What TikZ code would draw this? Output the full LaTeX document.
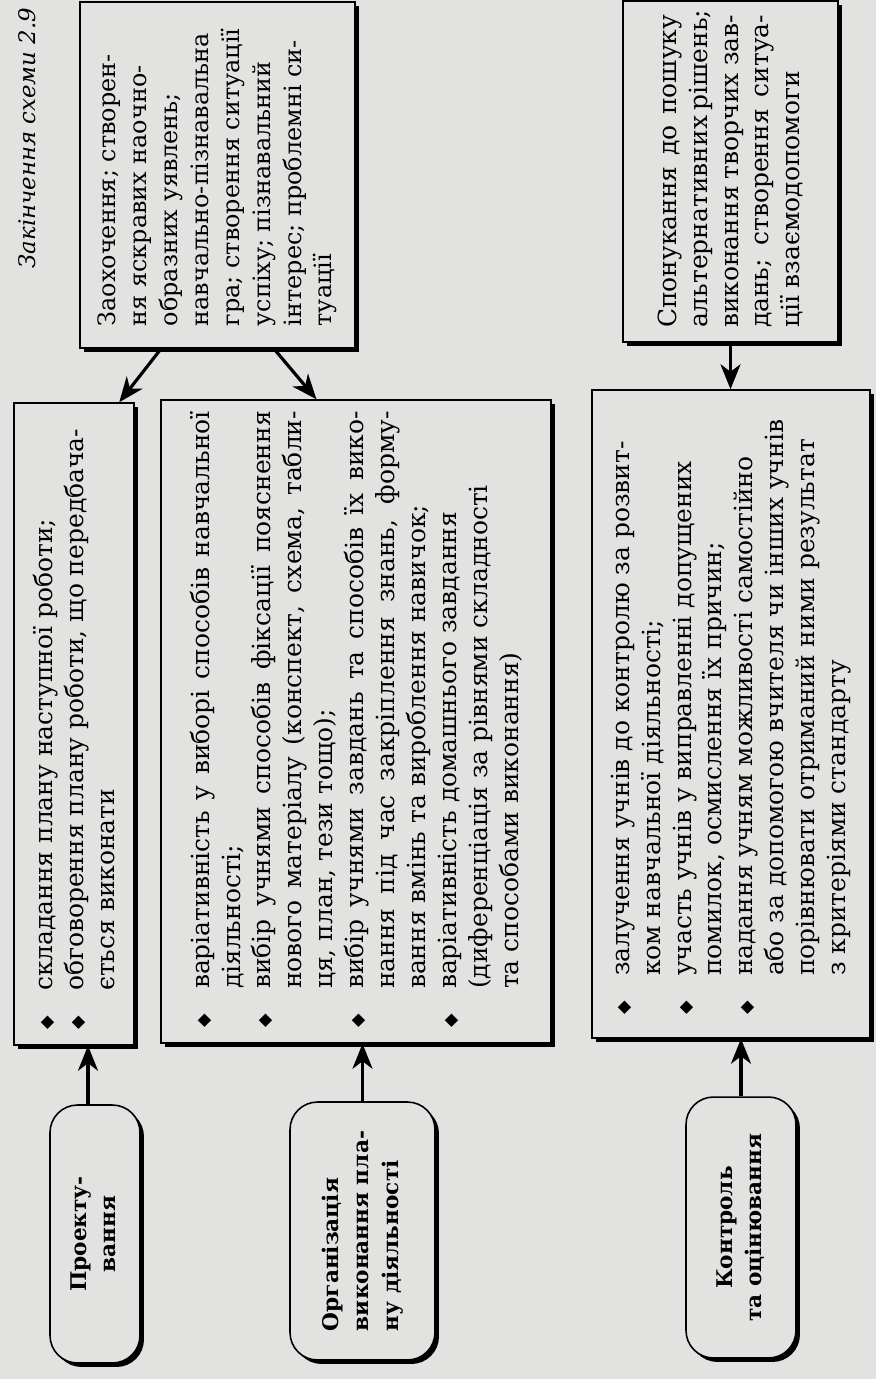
\documentclass[tikz,border=0pt]{standalone}
\usepackage{fontspec}
\setmainfont{DejaVu Serif}
\newfontfamily\symbfont{DejaVu Sans}
\usetikzlibrary{arrows.meta, shadows}
\definecolor{paper}{RGB}{226,226,224}

\newcommand{\boxfont}{\fontsize{14.2}{17.6}\selectfont}
\newcommand{\sidefont}{\fontsize{13.6}{17.6}\selectfont}
\newcommand{\bul}{{\symbfont\fontsize{10}{10}\selectfont ◆}}
\newcommand{\turned}[2]{\rotatebox{90}{\begin{minipage}{#1}#2\end{minipage}}}
\newcommand{\jline}[1]{\makebox[\linewidth][s]{#1}}
\newcommand{\rline}[1]{\mbox{#1}}
\newenvironment{dotlist}{%
  \begin{list}{\bul}{%
    \setlength\leftmargin{0.86cm}%
    \setlength\labelwidth{0.86cm}%
    \setlength\labelsep{0pt}%
    \setlength\itemsep{0pt}%
    \setlength\parsep{0pt}%
    \setlength\topsep{0pt}%
    \setlength\partopsep{0pt}%
    \renewcommand\makelabel[1]{\hspace{0.08cm}##1\hfil}}}%
  {\end{list}}

\tikzstyle{caption} = [
    rotate=90,
    inner sep=0pt,
    font=\itshape\fontsize{13}{15}\selectfont
]
\tikzstyle{textbox} = [
    rectangle,
    draw=black,
    line width=0.9pt,
    fill=paper,
    inner sep=0pt,
    font=\boxfont,
    drop shadow={shadow xshift=0.08cm, shadow yshift=-0.08cm, opacity=1, fill=black}
]
\tikzstyle{stage} = [
    rectangle,
    rounded corners=0.55cm,
    draw=black,
    line width=0.9pt,
    fill=paper,
    inner sep=0pt,
    font=\bfseries\fontsize{12.3}{17}\selectfont,
    drop shadow={shadow xshift=0.08cm, shadow yshift=-0.08cm, opacity=1, fill=black}
]
\tikzstyle{arrow} = [line width=1.8pt, -{Stealth[length=0.5cm, width=0.4cm, inset=0.15cm]}]

\begin{document}
\begin{tikzpicture}[x=0.02cm, y=-0.02cm]

\useasboundingbox (0,0) rectangle (876,1379);
\fill[paper] (0,0) rectangle (876,1379);

\node (cap) [caption] at (27,138) {Закінчення схеми 2.9};

% upper boxes
\node (zao) [textbox, font=\sidefont, minimum width=5.5cm, minimum height=6.92cm] at (217.5,175)
{\turned{6.05cm}{\rline{Заохочення; створен-}\\\rline{ня яскравих наочно-}\\\rline{образних уявлень;}\\\rline{навчально-пізнавальна}\\\rline{гра; створення ситуації}\\\rline{успіху; пізнавальний}\\\rline{інтерес; проблемні си-}\\\rline{туації}}};

\node (spon) [textbox, minimum width=4.3cm, minimum height=6.82cm] at (730.5,171.5)
{\turned{6.26cm}{\jline{Спонукання до пошуку}\\\jline{альтернативних рішень;}\\\jline{виконання творчих зав-}\\\jline{дань; створення ситуа-}\\\rline{ції взаємодопомоги}}};

% lists
\node (b1) [textbox, minimum width=2.4cm, minimum height=12.84cm] at (74,724)
{\turned{12.4cm}{\begin{dotlist}
\item \rline{складання плану наступної роботи;}
\item \rline{обговорення плану роботи, що передбача-}\\\rline{ється виконати}
\end{dotlist}}};

\node (b2) [textbox, minimum width=7.8cm, minimum height=12.86cm] at (356,721.5)
{\turned{12.42cm}{\begin{dotlist}
\item \jline{варіативність у виборі способів навчальної}\\\rline{діяльності;}
\item \jline{вибір учнями способів фіксації пояснення}\\\jline{нового матеріалу (конспект, схема, табли-}\\\rline{ця, план, тези тощо);}
\item \jline{вибір учнями завдань та способів їх вико-}\\\jline{нання під час закріплення знань, форму-}\\\rline{вання вмінь та вироблення навичок;}
\item \rline{варіативність домашнього завдання}\\\rline{(диференціація за рівнями складності}\\\rline{та способами виконання)}
\end{dotlist}}};

\node (b3) [textbox, minimum width=5.56cm, minimum height=12.96cm] at (731,714)
{\turned{12.2cm}{\begin{dotlist}
\item \rline{залучення учнів до контролю за розвит-}\\\rline{ком навчальної діяльності;}
\item \rline{участь учнів у виправленні допущених}\\\rline{помилок, осмислення їх причин;}
\item \rline{надання учням можливості самостійно}\\\rline{або за допомогою вчителя чи інших учнів}\\\rline{порівнювати отриманий ними результат}\\\rline{з критеріями стандарту}
\end{dotlist}}};

% stages
\node (r1) [stage, minimum width=1.8cm, minimum height=5.16cm] at (95,1234)
{\rotatebox{90}{\begin{tabular}{@{}c@{}}Проекту-\\вання\end{tabular}}};

\node (r2) [stage, minimum width=2.9cm, minimum height=5.16cm] at (362.5,1231)
{\rotatebox{90}{\begin{tabular}{@{}l@{}}Організація\\виконання пла-\\ну діяльності\end{tabular}}};

\node (r3) [stage, minimum width=2.2cm, minimum height=5.22cm] at (741,1227.5)
{\rotatebox{90}{\begin{tabular}{@{}c@{}}Контроль\\та оцінювання\end{tabular}}};

\draw [arrow] ([xshift=-0.14cm]r1.north) -- ([xshift=-0.14cm]r1.north |- b1.south);
\draw [arrow] (r2.north) -- (r2.north |- b2.south);
\draw [arrow] (r3.north) -- (r3.north |- b3.south);
\draw [arrow] (zao.252) -- (b1.82);
\draw [arrow] (zao.288) -- (b2.97);
\draw [arrow] (spon.south) -- (spon.south |- b3.north);

\end{tikzpicture}
\end{document}
